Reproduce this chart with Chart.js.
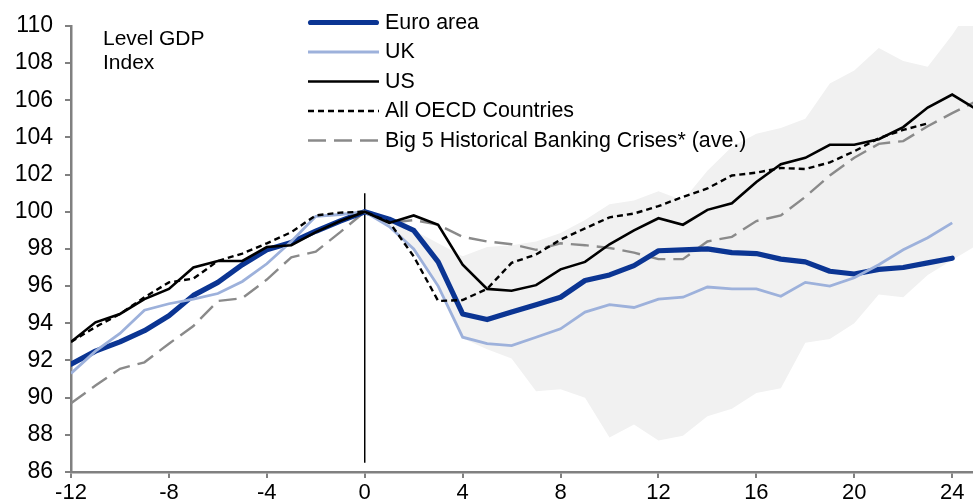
<!DOCTYPE html>
<html>
<head>
<meta charset="utf-8">
<script src="https://cdn.jsdelivr.net/npm/chart.js@4.4.1/dist/chart.umd.min.js"></script>
<style>
    html, body { margin: 0; padding: 0; background: #ffffff; }
    #wrap { width: 973px; height: 504px; position: relative; }
</style>
</head>
<body>
<div id="wrap"><canvas id="gdpChart"></canvas></div>
<script>
// Quarters relative to the start of the crisis (0 = pre-crisis peak)
const quarters = [-12, -11, -10, -9, -8, -7, -6, -5, -4, -3, -2, -1, 0, 1, 2, 3, 4, 5, 6, 7, 8, 9, 10, 11, 12,
    13, 14, 15, 16, 17, 18, 19, 20, 21, 22, 23, 24, 25];

// Level GDP index, each series starts at quarter -12
const euroArea = [91.8, 92.5, 93.0, 93.6, 94.4, 95.5, 96.2, 97.15, 97.95, 98.35, 98.95, 99.5, 100,
    99.6, 99.0, 97.3, 94.5, 94.2, 94.6, 95.0, 95.4, 96.3, 96.6, 97.1, 97.9, 97.95, 98.0, 97.8, 97.75,
    97.45, 97.3, 96.8, 96.65, 96.9, 97.0, 97.25, 97.5];
const uk = [91.3, 92.5, 93.45, 94.7, 95.05, 95.3, 95.6, 96.25, 97.2, 98.4, 99.75, 99.85, 100,
    99.2, 98.0, 96.0, 93.25, 92.9, 92.8, 93.25, 93.7, 94.6, 95.0, 94.85, 95.3, 95.4, 95.95, 95.85, 95.85,
    95.45, 96.2, 96.0, 96.45, 97.15, 97.95, 98.6, 99.4];
const us = [93.0, 94.05, 94.5, 95.3, 95.85, 97.0, 97.35, 97.35, 98.1, 98.2, 98.9, 99.5, 100,
    99.4, 99.8, 99.3, 97.15, 95.85, 95.75, 96.05, 96.9, 97.3, 98.25, 99.0, 99.65, 99.3, 100.1, 100.45, 101.6,
    102.55, 102.9, 103.6, 103.6, 103.9, 104.55, 105.6, 106.3, 105.5];
const allOecd = [93.0, 93.8, 94.5, 95.4, 96.2, 96.4, 97.35, 97.75, 98.3, 98.9, 99.8, 99.95, 100,
    99.45, 97.6, 95.2, 95.25, 95.85, 97.25, 97.7, 98.5, 99.1, 99.7, 99.9, 100.3, 100.8, 101.25, 101.95, 102.1,
    102.35, 102.3, 102.65, 103.25, 103.95, 104.4, 104.75];
const big5Crises = [89.7, 90.65, 91.55, 91.9, 92.9, 93.85, 95.2, 95.35, 96.35, 97.55, 97.85, 98.9, 100,
    99.4, 99.55, 99.3, 98.65, 98.4, 98.25, 97.95, 98.3, 98.2, 98.05, 97.8, 97.45, 97.45, 98.4, 98.65, 99.5,
    99.8, 100.8, 101.95, 102.9, 103.65, 103.8, 104.6, 105.3, 105.95];

// Range of historical crises, starts at quarter 0
const rangeHigh = [100, 99.6, 99.0, 98.3, 97.6, 98.1, 98.2, 98.4, 98.85, 99.55, 100.4, 100.6, 101.1,
    100.6, 102.2, 103.5, 104.2, 104.5, 105.0, 106.9, 107.6, 108.8, 108.1, 107.8, 109.5, 111.5];
const rangeLow = [100, 99.2, 97.9, 95.9, 93.2, 92.6, 92.1, 90.35, 90.45, 90.0, 87.85, 88.55, 87.7,
    87.95, 89.0, 89.4, 90.25, 90.5, 92.95, 93.15, 94.0, 95.55, 95.4, 96.6, 97.4, 98.2];

// Vertical marker at quarter 0
const markerY = [101.0, 86.5];

const xTicks = [-12, -8, -4, 0, 4, 8, 12, 16, 20, 24];
const yTicks = [86, 88, 90, 92, 94, 96, 98, 100, 102, 104, 106, 108, 110];

const FONT = "'Liberation Sans', Arial, sans-serif";

function toPoints(values, startQuarter) {
    const first = quarters.indexOf(startQuarter);
    return values.map((v, i) => ({ x: quarters[first + i], y: v }));
}

// draws the key and the axis caption inside the plot
const keyPlugin = {
    id: 'key',
    afterDraw(chart) {
        const ctx = chart.ctx;
        ctx.save();
        chart.data.datasets.filter(d => d.inKey).forEach((d, i) => {
            const y = 22.5 + i * 29.5;
            const inset = d.borderCapStyle === 'round' ? d.borderWidth / 2 : 0;
            ctx.beginPath();
            ctx.strokeStyle = d.borderColor;
            ctx.lineWidth = d.borderWidth;
            ctx.lineCap = d.borderCapStyle || 'butt';
            ctx.setLineDash(d.borderDash || []);
            ctx.moveTo(308 + inset, y);
            ctx.lineTo(379 - inset, y);
            ctx.stroke();
            ctx.setLineDash([]);
            ctx.fillStyle = '#000000';
            ctx.font = '21.4px ' + FONT;
            ctx.textBaseline = 'middle';
            ctx.textAlign = 'left';
            ctx.fillText(d.label, 385, y + 0.5);
        });
        ctx.font = '21px ' + FONT;
        ctx.fillStyle = '#000000';
        ctx.textBaseline = 'middle';
        ctx.fillText('Level GDP', 103, 39.5);
        ctx.fillText('Index', 103, 63.5);
        ctx.restore();
    }
};

const lineBase = { pointRadius: 0, pointHoverRadius: 0, tension: 0, fill: false };

new Chart(document.getElementById('gdpChart'), {
    type: 'line',
    data: {
        datasets: [
            Object.assign({}, lineBase, {
                label: 'Euro area', inKey: true, data: toPoints(euroArea, -12),
                borderColor: '#0b3593', borderWidth: 5.2, borderCapStyle: 'round', borderJoinStyle: 'round', order: 3
            }),
            Object.assign({}, lineBase, {
                label: 'UK', inKey: true, data: toPoints(uk, -12),
                borderColor: '#9db1db', borderWidth: 2.8, order: 2
            }),
            Object.assign({}, lineBase, {
                label: 'US', inKey: true, data: toPoints(us, -12),
                borderColor: '#000000', borderWidth: 2.6, order: 1
            }),
            Object.assign({}, lineBase, {
                label: 'All OECD Countries', inKey: true, data: toPoints(allOecd, -12),
                borderColor: '#000000', borderWidth: 2.4, borderDash: [6, 4], order: 0
            }),
            Object.assign({}, lineBase, {
                label: 'Big 5 Historical Banking Crises* (ave.)', inKey: true, data: toPoints(big5Crises, -12),
                borderColor: '#8a8a8a', borderWidth: 2.4, borderDash: [18, 8], order: 4
            }),
            Object.assign({}, lineBase, {
                label: 'marker', data: markerY.map(v => ({ x: 0, y: v })),
                borderColor: '#000000', borderWidth: 1.5, order: 5
            }),
            Object.assign({}, lineBase, {
                label: 'range low', data: toPoints(rangeLow, 0),
                borderWidth: 0, borderColor: 'rgba(0,0,0,0)', order: 10, clip: 0
            }),
            Object.assign({}, lineBase, {
                label: 'range high', data: toPoints(rangeHigh, 0),
                borderWidth: 0, borderColor: 'rgba(0,0,0,0)', backgroundColor: '#f1f1f1',
                fill: '-1', order: 9, clip: 0
            })
        ]
    },
    options: {
        responsive: true,
        maintainAspectRatio: false,
        animation: false,
        layout: { padding: { top: 20, right: 0, left: 0, bottom: 0 } },
        plugins: {
            legend: { display: false },
            tooltip: { enabled: false }
        },
        scales: {
            x: {
                type: 'linear',
                min: -12,
                max: 24.85,
                afterBuildTicks: scale => { scale.ticks = xTicks.map(v => ({ value: v })); },
                afterFit: scale => { scale.height = 32; },
                grid: { drawOnChartArea: false, color: '#808080', lineWidth: 2, tickLength: 6 },
                border: { color: '#808080', width: 2.5 },
                ticks: {
                    color: '#000000', font: { family: FONT, size: 22 }, padding: 2,
                    maxRotation: 0, autoSkip: false
                }
            },
            y: {
                min: 86,
                max: 110,
                afterBuildTicks: scale => { scale.ticks = yTicks.map(v => ({ value: v })); },
                afterFit: scale => { scale.width = 71; },
                grid: { drawOnChartArea: false, color: '#808080', lineWidth: 2, tickLength: 6 },
                border: { color: '#808080', width: 2.5 },
                ticks: { color: '#000000', font: { family: FONT, size: 23 }, padding: 12 }
            }
        }
    },
    plugins: [keyPlugin]
});
</script>
</body>
</html>
